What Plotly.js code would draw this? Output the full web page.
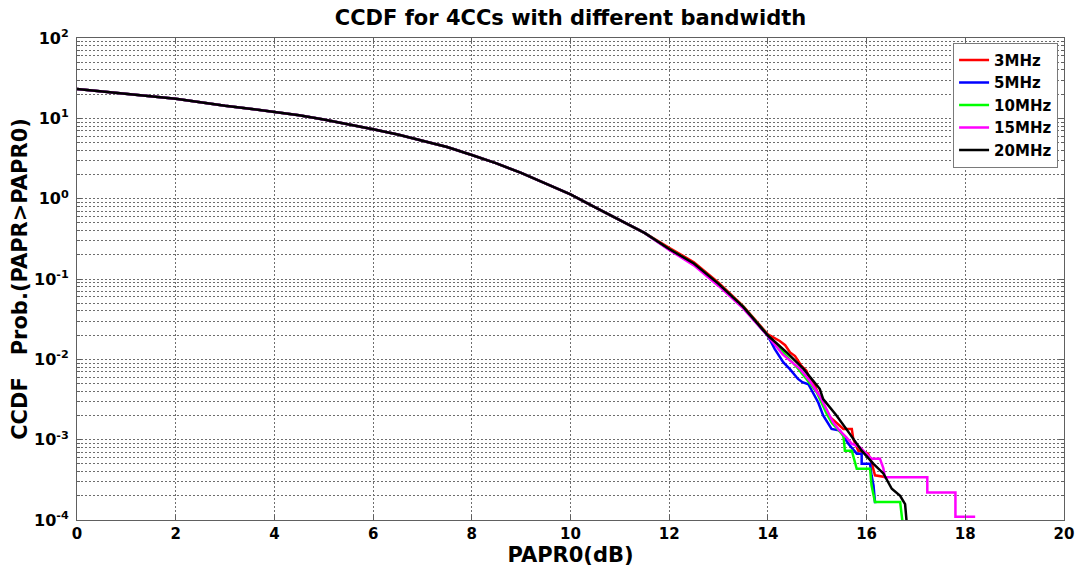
<!DOCTYPE html>
<html>
<head>
<meta charset="utf-8">
<script src="https://cdn.plot.ly/plotly-3.0.1.min.js"></script>
<style>html,body{margin:0;padding:0;background:#fff;}</style>
</head>
<body>
<div id="chart" style="width:1079px;height:572px;"></div>
<script>
// ---- shared head of the CCDF (all bandwidths overlap here) ----
var headX = [0, 0.5, 1, 1.5, 2, 2.5, 3, 3.5, 4, 4.5, 5, 5.5, 6, 6.5, 7, 7.5, 8, 8.5, 9, 9.5, 10, 10.5, 11, 11.5];
var headY = [23.2, 21.7, 20.2, 18.8, 17.5, 15.9, 14.3, 13.2, 12.1, 10.9, 9.7, 8.5, 7.3, 6.3, 5.3, 4.4, 3.5, 2.75, 2.09, 1.55, 1.13, 0.78, 0.54, 0.375];

// ---- per-bandwidth tails ----
var tailX3M = [12, 12.5, 13, 13.5, 14, 14.1, 14.24, 14.35, 14.45, 14.55, 14.68, 14.78, 14.85, 14.95, 15.02, 15.1, 15.26, 15.4, 15.53, 15.7, 15.73, 15.83, 16.03, 16.1, 16.17, 16.4];
var tailY3M = [0.245, 0.162, 0.09, 0.046, 0.0205, 0.019, 0.0169, 0.015, 0.0122, 0.011, 0.0083, 0.0072, 0.0057, 0.0047, 0.0037, 0.003, 0.0019, 0.0016, 0.00136, 0.00136, 0.00102, 0.00073, 0.00067, 0.00052, 0.00036, 0.00034];

var tailX5M = [12, 12.5, 13, 13.5, 14, 14.14, 14.31, 14.45, 14.61, 14.7, 14.82, 14.9, 15.02, 15.12, 15.29, 15.46, 15.63, 15.8, 15.9, 15.9, 16.07, 16.1, 16.14, 16.17, 16.2];
var tailY5M = [0.233, 0.153, 0.085, 0.044, 0.0195, 0.0134, 0.0092, 0.0075, 0.0057, 0.0052, 0.0049, 0.004, 0.0029, 0.002, 0.00136, 0.0013, 0.00089, 0.00067, 0.00067, 0.0005, 0.0005, 0.00036, 0.00027, 0.000167, 0.000167];

var tailX10M = [12, 12.5, 13, 13.5, 14, 14.3, 14.6, 14.78, 14.99, 15.19, 15.3, 15.41, 15.53, 15.56, 15.7, 15.8, 16.07, 16.1, 16.17, 16.68, 16.78];
var tailY10M = [0.235, 0.155, 0.086, 0.045, 0.0198, 0.0125, 0.0078, 0.0057, 0.0039, 0.0021, 0.0016, 0.00136, 0.00112, 0.00073, 0.00073, 0.000435, 0.000435, 0.00027, 0.000167, 0.000167, 0.00005];

var tailX15M = [12, 12.5, 13, 13.5, 14, 14.3, 14.65, 14.85, 15.05, 15.19, 15.32, 15.45, 15.59, 15.7, 15.86, 16.1, 16.27, 16.34, 16.37, 17.23, 17.23, 17.8, 17.8, 18.2];
var tailY15M = [0.23, 0.148, 0.082, 0.043, 0.0195, 0.0115, 0.0076, 0.0054, 0.0035, 0.0024, 0.00165, 0.0013, 0.00107, 0.00089, 0.00081, 0.00058, 0.00058, 0.00044, 0.00034, 0.00034, 0.00022, 0.00022, 0.00011, 0.00011];

var tailX20M = [12, 12.5, 13, 13.5, 14, 14.38, 14.72, 15.05, 15.12, 15.39, 15.66, 15.9, 16.14, 16.34, 16.51, 16.68, 16.78, 16.85];
var tailY20M = [0.236, 0.156, 0.087, 0.045, 0.0198, 0.0122, 0.0076, 0.0043, 0.0032, 0.002, 0.00118, 0.00073, 0.0005, 0.00038, 0.000245, 0.0002, 0.000158, 0.00005];

var seriesNames = ['3MHz', '5MHz', '10MHz', '15MHz', '20MHz'];
var seriesColors = ['#ff0000', '#0000ff', '#00ff00', '#ff00ff', '#000000'];
var tailsX = [tailX3M, tailX5M, tailX10M, tailX15M, tailX20M];
var tailsY = [tailY3M, tailY5M, tailY10M, tailY15M, tailY20M];

var yTickVals = [1e-4, 1e-3, 1e-2, 1e-1, 1e0, 1e1, 1e2];
var yTickText = ['10<sup>-4</sup>', '10<sup>-3</sup>', '10<sup>-2</sup>', '10<sup>-1</sup>', '10<sup>0</sup>', '10<sup>1</sup>', '10<sup>2</sup>'];

var FONT = 'DejaVu Sans, Verdana, sans-serif';

var traces = seriesNames.map(function (name, i) {
  return {
    type: 'scatter',
    mode: 'lines',
    name: name,
    x: headX.concat(tailsX[i]),
    y: headY.concat(tailsY[i]),
    line: {color: seriesColors[i], width: 2.5},
    cliponaxis: true
  };
});

var gridCol = '#6e6e6e';
var layout = {
  width: 1079,
  height: 572,
  margin: {l: 77, r: 15, t: 38, b: 52},
  paper_bgcolor: '#ffffff',
  plot_bgcolor: '#ffffff',
  showlegend: true,
  title: {
    text: 'CCDF for 4CCs with different bandwidth',
    font: {family: FONT, size: 21, weight: 'bold', color: '#000'},
    x: 0.5, xref: 'paper', xanchor: 'center',
    y: 0.97, yref: 'container', yanchor: 'middle'
  },
  xaxis: {
    range: [0, 20],
    tickmode: 'linear', tick0: 0, dtick: 2,
    showgrid: true, gridcolor: gridCol, griddash: '2px,2px', gridwidth: 1,
    zeroline: false,
    showline: true, linecolor: '#606060', linewidth: 1, mirror: 'ticks',
    ticks: 'inside', ticklen: 5, tickcolor: '#606060',
    tickfont: {family: FONT, size: 15, weight: 'bold', color: '#000'},
    title: {text: 'PAPR0(dB)', font: {family: FONT, size: 21, weight: 'bold', color: '#000'}, standoff: 2},
    automargin: false
  },
  yaxis: {
    type: 'log',
    range: [-4, 2],
    tickmode: 'array', tickvals: yTickVals, ticktext: yTickText,
    showgrid: true, gridcolor: gridCol, griddash: '2px,2px', gridwidth: 1,
    zeroline: false,
    showline: true, linecolor: '#606060', linewidth: 1, mirror: 'ticks',
    ticks: 'inside', ticklen: 5, tickcolor: '#606060',
    ticklabelstandoff: 4,
    tickfont: {family: FONT, size: 16, weight: 'bold', color: '#000'},
    minor: {dtick: 'D1', showgrid: true, gridcolor: gridCol, griddash: '2px,2px', gridwidth: 1, ticks: 'inside', ticklen: 3, tickcolor: '#606060'},
    title: {text: 'CCDF\u00a0\u00a0\u00a0Prob.(PAPR>PAPR0)', font: {family: FONT, size: 21, weight: 'bold', color: '#000'}, standoff: 0},
    automargin: false
  },
  legend: {
    x: 0.994, xanchor: 'right', y: 0.99, yanchor: 'top',
    bgcolor: '#ffffff', bordercolor: '#7a7a7a', borderwidth: 1,
    font: {family: FONT, size: 15, weight: 'bold', color: '#000'},
    itemwidth: 30, tracegroupgap: 0
  }
};

Plotly.newPlot('chart', traces, layout, {displayModeBar: false, staticPlot: true});
</script>
</body>
</html>
